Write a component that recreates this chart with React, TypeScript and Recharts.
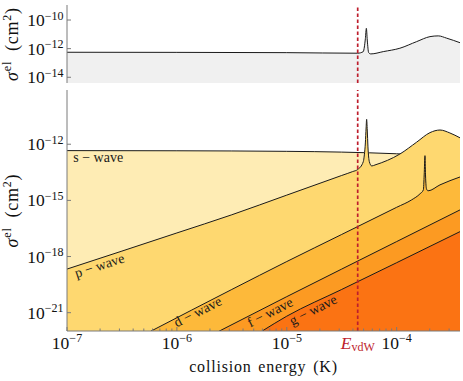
import React from 'react';
import { ComposedChart, Area, XAxis, YAxis, ReferenceLine, ReferenceDot } from 'recharts';

// ---------- data ----------
const E_VDW = 4.42e-5;
const X_DOMAIN = [1e-7, 3.77e-4];
const TOP_Y_DOMAIN = [3.98e-15, 1.12e-9];
const BOT_Y_DOMAIN = [1.05e-22, 7.9e-10];

const xMajorTicks = [1e-7, 1e-6, 1e-5, 1e-4];
const xMinorTicks = [
  2e-7, 3e-7, 4e-7, 5e-7, 6e-7, 7e-7, 8e-7, 9e-7,
  2e-6, 3e-6, 4e-6, 5e-6, 6e-6, 7e-6, 8e-6, 9e-6,
  2e-5, 3e-5, 4e-5, 5e-5, 6e-5, 7e-5, 8e-5, 9e-5,
  2e-4, 3e-4,
];
const topYTicks = [1e-14, 1e-12, 1e-10];
const botYTicks = [1e-21, 1e-18, 1e-15, 1e-12];

// top panel: total elastic cross section
const topEnergy = [1e-7, 1e-6, 1e-5, 4.42e-5, 4.97e-5, 5.08e-5, 5.19e-5, 5.3e-5, 5.4e-5, 5.56e-5, 5.81e-5, 7.55e-5, 1.07e-4, 1.52e-4, 2.01e-4, 2.39e-4, 2.85e-4, 3.77e-4];
const topSigma = [5.6e-13, 5.5e-13, 5.25e-13, 4.8e-13, 6.2e-13, 1.3e-12, 5e-12, 2.63e-11, 4e-12, 5.25e-13, 4.27e-13, 6.2e-13, 1.07e-12, 3.1e-12, 6.9e-12, 7.8e-12, 5.4e-12, 2.6e-12];

// bottom panel: partial waves
const sEnergy = [1e-7, 1e-6, 1e-5, 3.16e-5, 1e-4, 3.77e-4];
const sSigma = [4.57e-13, 4.47e-13, 4.17e-13, 3.8e-13, 3.09e-13, 2.0e-13];

const pEnergy = [1e-7, 3.16e-7, 1e-6, 3.16e-6, 1e-5, 3.16e-5, 3.98e-5, 4.42e-5, 4.97e-5, 5.08e-5, 5.19e-5, 5.27e-5, 5.33e-5, 5.4e-5, 5.48e-5, 5.64e-5, 5.93e-5, 6.35e-5, 1.07e-4, 1.52e-4, 2.01e-4, 2.48e-4, 3.05e-4, 3.77e-4];
const pSigma = [2.14e-19, 1.95e-18, 1.82e-17, 1.7e-16, 1.91e-15, 2.14e-14, 3.47e-14, 4.47e-14, 1.17e-13, 2.7e-13, 1.17e-12, 7.4e-12, 2.14e-11, 5.75e-12, 7.2e-13, 1.17e-13, 6.9e-14, 7.8e-14, 3.0e-13, 1.29e-12, 4.17e-12, 5.75e-12, 4.0e-12, 2.2e-12];

const dEnergy = [5.75e-7, 3.16e-6, 1e-5, 3.16e-5, 1e-4, 1.37e-4, 1.63e-4, 1.75e-4, 1.78e-4, 1.81e-4, 1.83e-4, 1.87e-4, 1.93e-4, 2.48e-4, 3.77e-4];
const dSigma = [1e-22, 1.74e-20, 5.4e-19, 1.51e-17, 4.27e-16, 1.07e-15, 2.24e-15, 3.63e-15, 2.29e-14, 2.45e-13, 2.29e-14, 4.07e-15, 3.24e-15, 6.76e-15, 1.78e-14];

const fEnergy = [2.4e-6, 1e-5, 3.16e-5, 1e-4, 3.77e-4];
const fSigma = [1e-22, 7.2e-21, 2.14e-19, 6.3e-18, 3.1e-16];

const gEnergy = [5.9e-6, 1e-5, 3.16e-5, 1e-4, 3.77e-4];
const gSigma = [1e-22, 6.5e-22, 1.74e-20, 4.68e-19, 2.14e-17];

const waveNames = ['s − wave', 'p − wave', 'd − wave', 'f − wave', 'g − wave'];
const waveLabelEnergy = [1.14e-7, 1.22e-7, 1.0e-6, 4.65e-6, 1.12e-5];
const waveLabelSigma = [1.13e-13, 7.2e-20, 1.6e-22, 1.6e-22, 2.0e-22];

// ---------- styles ----------
const FONT = "'Liberation Serif', 'DejaVu Serif', serif";
const FRAME = '#7a7a7a';
const LINE = '#1a1a1a';
const RED = '#BE1E2D';
const waveFills = ['#FEECB4', '#FED870', '#FDB93A', '#FC9A22', '#FB7313'];
const waveAngles = [0, -18, -27, -27, -27];

const zip = (xs: number[], ys: number[]) => xs.map((e, i) => ({ e, v: ys[i] }));
const topData = zip(topEnergy, topSigma);
const waveData = [
  zip(sEnergy, sSigma),
  zip(pEnergy, pSigma),
  zip(dEnergy, dSigma),
  zip(fEnergy, fSigma),
  zip(gEnergy, gSigma),
];

const isMajor = (v: number) => Math.abs(Math.log10(v) - Math.round(Math.log10(v))) < 1e-6;
const expOf = (v: number) => String(Math.round(Math.log10(v))).replace('-', '\u2212');

const XTick = (props: any) => {
  const { x, y, payload, side, labels } = props;
  const v = payload.value;
  if (v === E_VDW) {
    if (!labels) return <g />;
    return (
      <text x={x} y={y + 17.5} textAnchor="middle" fontFamily={FONT} fontSize={17.5} fill={RED}>
        <tspan fontStyle="italic">E</tspan>
        <tspan dy={2} fontSize={12}>vdW</tspan>
      </text>
    );
  }
  const major = isMajor(v);
  const len = major ? 4 : 2.5;
  const dir = side === 'bottom' ? -1 : 1;
  return (
    <g>
      <line x1={x} x2={x} y1={y} y2={y + dir * len} stroke={FRAME} strokeWidth={1} />
      {major && labels && (
        <text x={x} y={y + 17.5} textAnchor="middle" fontFamily={FONT} fontSize={17.5} fill="#111">
          10<tspan dy={-6.5} fontSize={12}>{expOf(v)}</tspan>
        </text>
      )}
    </g>
  );
};

const YTick = (props: any) => {
  const { x, y, payload, side } = props;
  const v = payload.value;
  const dir = side === 'left' ? 1 : -1;
  return (
    <g>
      <line x1={x} x2={x + dir * 4} y1={y} y2={y} stroke={FRAME} strokeWidth={1} />
      {side === 'left' && (
        <text x={x - 3.5} y={y + 6} textAnchor="end" fontFamily={FONT} fontSize={17.5} fill="#111">
          10<tspan dy={-6.5} fontSize={12}>{expOf(v)}</tspan>
        </text>
      )}
    </g>
  );
};

const YTitle = (props: any) => {
  const vb = props.viewBox || {};
  const cx = 18;
  const cy = vb.y + vb.height / 2;
  return (
    <text transform={`translate(${cx},${cy}) rotate(-90)`} textAnchor="middle" fontFamily={FONT} fontSize={18} fill="#111" letterSpacing={0.8}>
      <tspan fontStyle="italic">σ</tspan>
      <tspan dy={-7.5} fontSize={12}>el</tspan>
      <tspan dy={7.5}>{'\u2002(cm'}</tspan>
      <tspan dy={-7.5} fontSize={12}>2</tspan>
      <tspan dy={7.5}>)</tspan>
    </text>
  );
};

const XTitle = (props: any) => {
  const vb = props.viewBox || {};
  return (
    <text x={vb.x + vb.width / 2} y={vb.y + 41} textAnchor="middle" fontFamily={FONT} fontSize={16} fill="#111" letterSpacing={0.8} wordSpacing={2}>
      collision energy (K)
    </text>
  );
};

const WaveLabel = (props: any) => {
  const { cx, cy, text, angle } = props;
  return (
    <text x={cx} y={cy} transform={`rotate(${angle} ${cx} ${cy})`} fontFamily={FONT} fontSize={14} fill="#1a1a1a">
      {text}
    </text>
  );
};

const axisCommon = {
  type: 'number' as const,
  scale: 'log' as const,
  allowDataOverflow: true,
  interval: 0 as const,
  tickSize: 0,
  tickMargin: 0,
  axisLine: { stroke: FRAME, strokeWidth: 1 },
  tickLine: false,
};

const xTicksAll = [...xMajorTicks, ...xMinorTicks].sort((a, b) => a - b);
const xTicksBottom = [...xTicksAll, E_VDW].sort((a, b) => a - b);

export default function App() {
  return (
    <div style={{ position: 'absolute', left: 0, top: 0, width: 463, height: 381, background: '#fff' }}>
      <div style={{ position: 'absolute', left: 0, top: 0 }}>
        <ComposedChart width={463} height={88} margin={{ top: 5, right: 3, bottom: 5, left: 0 }}>
          <XAxis {...axisCommon} xAxisId="x" dataKey="e" domain={X_DOMAIN} ticks={xTicksAll} height={0}
            tick={<XTick side="bottom" labels={false} />} />
          <XAxis {...axisCommon} xAxisId="xt" orientation="top" dataKey="e" domain={X_DOMAIN} ticks={xTicksAll} height={0}
            tick={<XTick side="top" labels={false} />} />
          <YAxis {...axisCommon} yAxisId="y" domain={TOP_Y_DOMAIN} ticks={topYTicks} width={67}
            tick={<YTick side="left" />} label={{ content: (p: any) => <YTitle {...p} /> }} />
          <YAxis {...axisCommon} yAxisId="yr" orientation="right" domain={TOP_Y_DOMAIN} ticks={topYTicks} width={0}
            tick={<YTick side="right" />} />
          <Area xAxisId="x" yAxisId="y" data={topData} dataKey="v" type="monotone" fill="#F0F0F0" fillOpacity={1}
            stroke={LINE} strokeWidth={1} isAnimationActive={false} baseValue="dataMin" />
          <ReferenceLine xAxisId="x" yAxisId="y" x={E_VDW} stroke={RED} strokeWidth={1.7} strokeDasharray="3.5 2.5" />
        </ComposedChart>
      </div>
      <div style={{ position: 'absolute', left: 0, top: 85 }}>
        <ComposedChart width={463} height={296} margin={{ top: 5, right: 3, bottom: 0, left: 0 }}>
          <XAxis {...axisCommon} xAxisId="x" dataKey="e" domain={X_DOMAIN} ticks={xTicksBottom} height={50}
            tick={<XTick side="bottom" labels={true} />} label={{ content: (p: any) => <XTitle {...p} /> }} />
          <XAxis {...axisCommon} xAxisId="xt" orientation="top" dataKey="e" domain={X_DOMAIN} ticks={xTicksAll} height={0}
            tick={<XTick side="top" labels={false} />} />
          <YAxis {...axisCommon} yAxisId="y" domain={BOT_Y_DOMAIN} ticks={botYTicks} width={67}
            tick={<YTick side="left" />} label={{ content: (p: any) => <YTitle {...p} /> }} />
          <YAxis {...axisCommon} yAxisId="yr" orientation="right" domain={BOT_Y_DOMAIN} ticks={botYTicks} width={0}
            tick={<YTick side="right" />} />
          {waveData.map((d, i) => (
            <Area key={i} xAxisId="x" yAxisId="y" data={d} dataKey="v" type="monotone" fill={waveFills[i]} fillOpacity={1}
              stroke={LINE} strokeWidth={1} isAnimationActive={false} baseValue="dataMin" />
          ))}
          <ReferenceLine xAxisId="x" yAxisId="y" x={E_VDW} stroke={RED} strokeWidth={1.7} strokeDasharray="3.5 2.5" />
          {waveNames.map((name, i) => (
            <ReferenceDot key={name} xAxisId="x" yAxisId="y" x={waveLabelEnergy[i]} y={waveLabelSigma[i]} r={0}
              shape={(p: any) => <WaveLabel cx={p.cx} cy={p.cy} text={name} angle={waveAngles[i]} />} />
          ))}
        </ComposedChart>
      </div>
    </div>
  );
}
